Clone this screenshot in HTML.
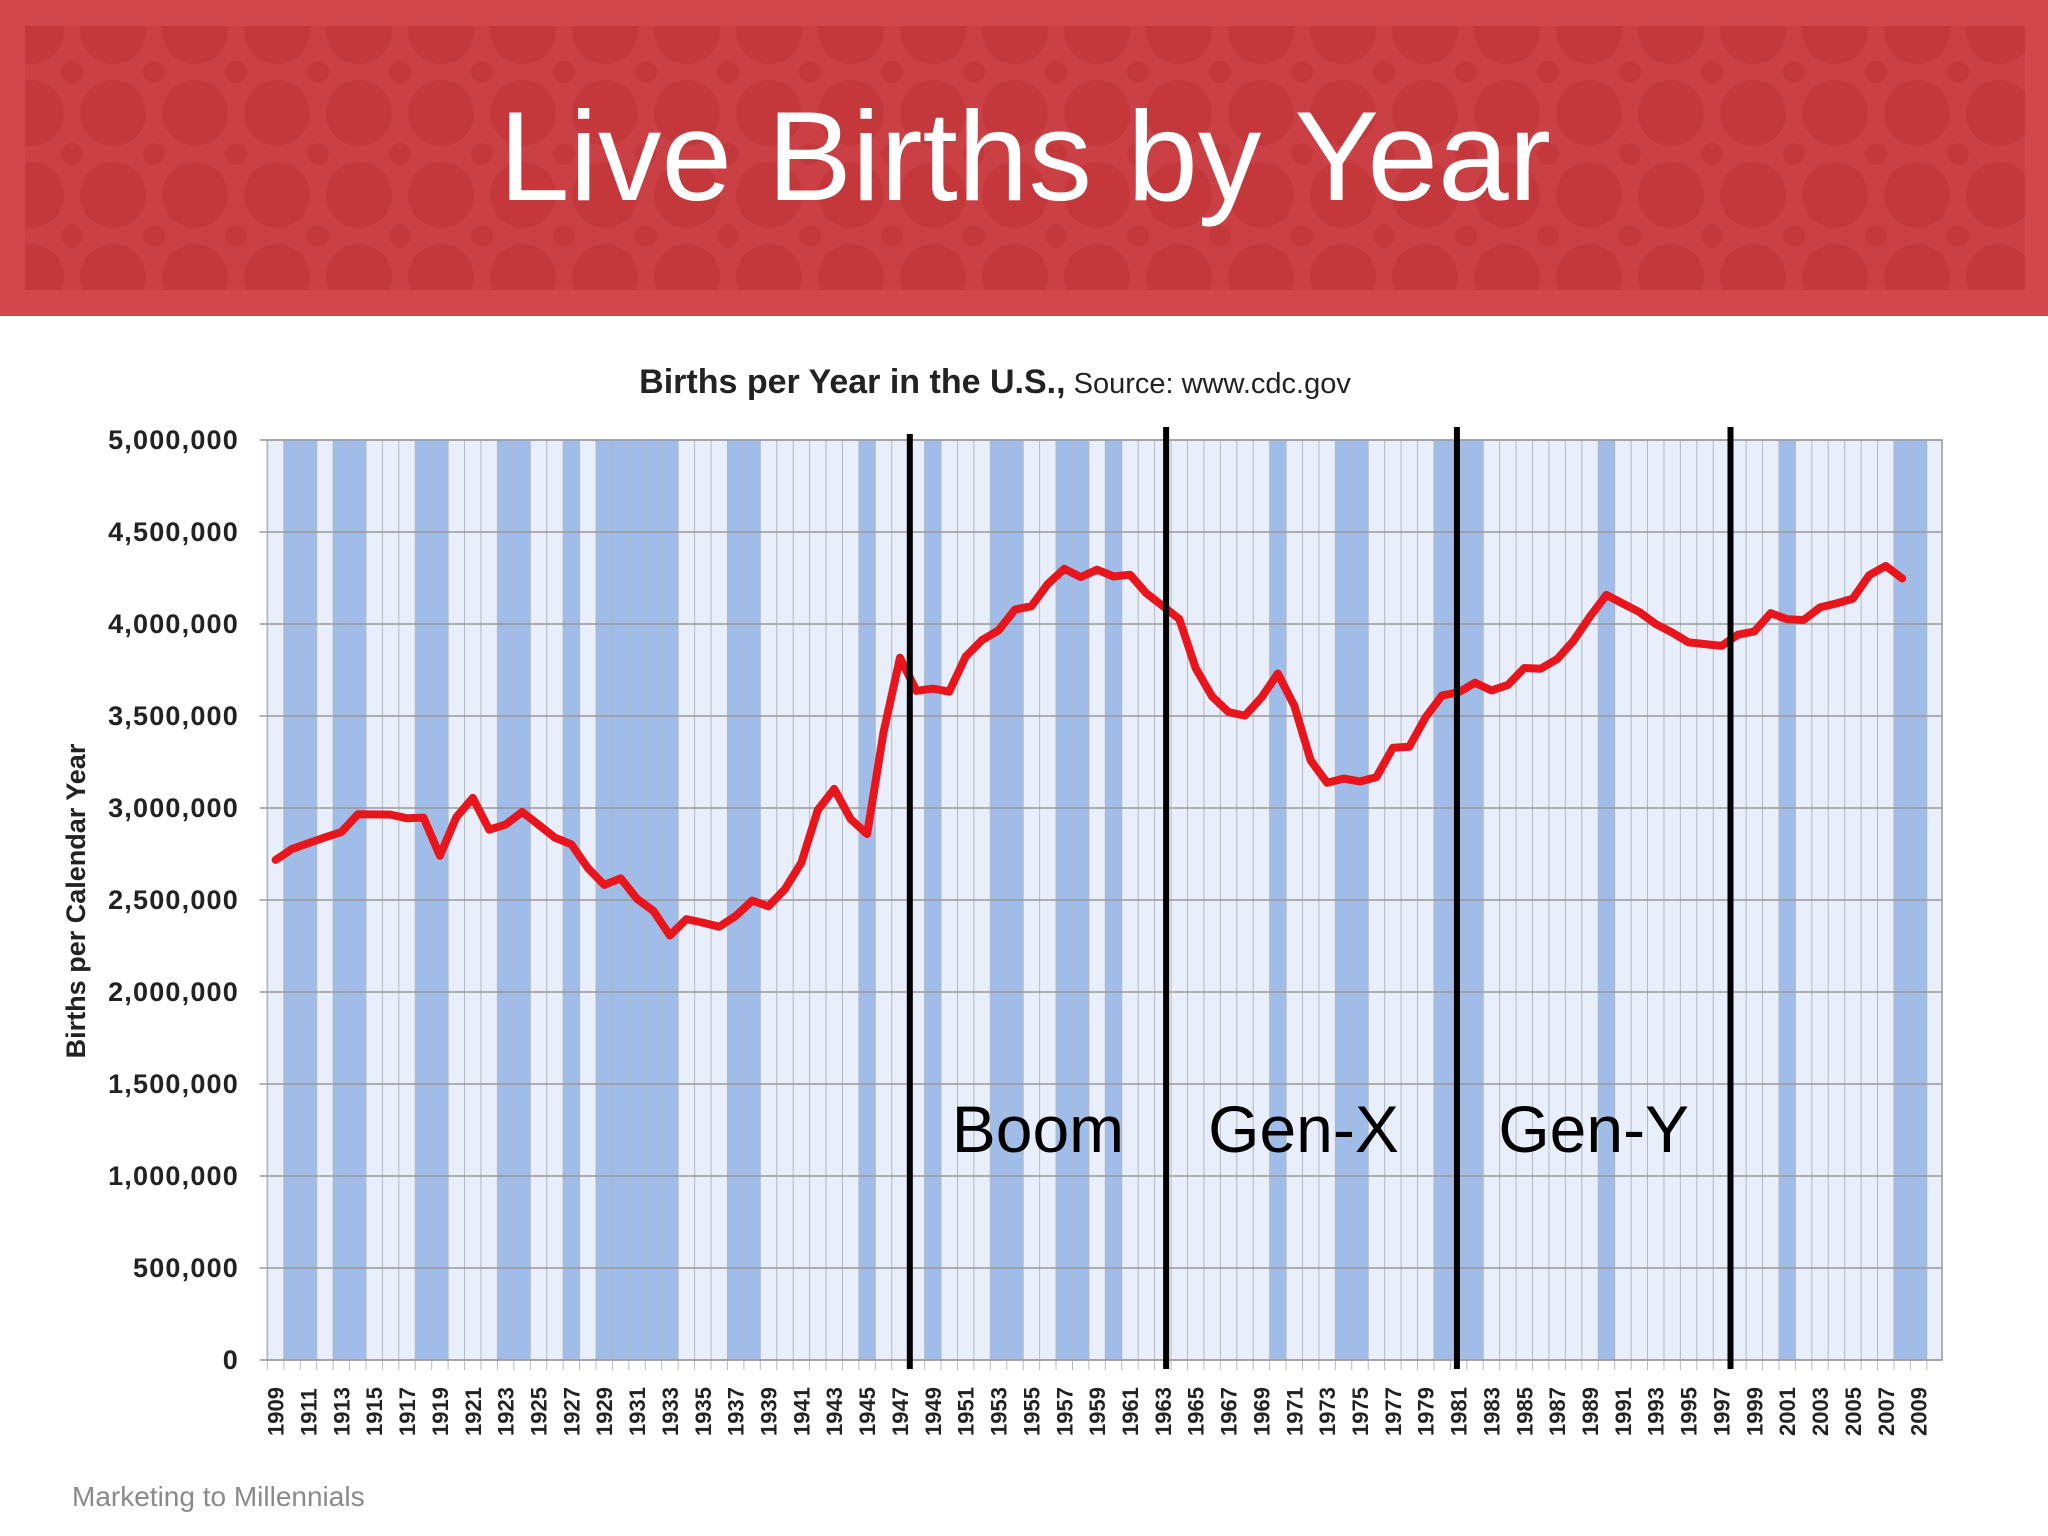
<!DOCTYPE html>
<html><head><meta charset="utf-8"><style>
html,body{margin:0;padding:0;background:#fff;}
svg{display:block;font-family:"Liberation Sans",sans-serif;}
</style></head><body>
<svg id="root" width="2048" height="1536" viewBox="0 0 2048 1536" xmlns="http://www.w3.org/2000/svg">
<defs>
<pattern id="dots" x="72" y="72" width="82" height="82" patternUnits="userSpaceOnUse">
<circle cx="41" cy="41" r="33" fill="#c4383c"/>
<circle cx="0" cy="0" r="11" fill="#c4383c"/>
<circle cx="82" cy="0" r="11" fill="#c4383c"/>
<circle cx="0" cy="82" r="11" fill="#c4383c"/>
<circle cx="82" cy="82" r="11" fill="#c4383c"/>
</pattern>
</defs>
<g>
<rect x="0" y="0" width="2048" height="316" fill="#d1474b"/>
<rect x="25" y="26" width="2000" height="264" fill="#cb4044"/>
<rect x="25" y="26" width="2000" height="264" fill="url(#dots)"/>
</g>
<text x="1025" y="200" font-size="127" fill="#fff" text-anchor="middle">Live Births by Year</text>
<text x="995" y="393" font-size="34" text-anchor="middle" fill="#222"><tspan font-weight="bold">Births per Year in the U.S.,</tspan><tspan font-size="29"> Source: www.cdc.gov</tspan></text>
<text transform="translate(85,901) rotate(-90)" font-size="27" font-weight="bold" text-anchor="middle" fill="#222">Births per Calendar Year</text>
<g id="plot"></g>
<text x="72" y="1506" font-size="28" fill="#8a8a8a">Marketing to Millennials</text>
</svg>
<script>
const years = [];
for (let y = 1909; y <= 2008; y++) years.push(y);
const births = [2718,2777,2809,2840,2869,2966,2965,2964,2944,2948,2740,2950,3055,2882,2910,2979,2909,2839,2802,2674,2582,2618,2506,2440,2307,2396,2377,2355,2413,2496,2466,2559,2703,2989,3104,2939,2858,3411,3817,3637,3649,3632,3823,3913,3965,4078,4097,4218,4300,4255,4295,4258,4268,4167,4098,4027,3760,3606,3521,3502,3600,3731,3556,3258,3137,3160,3144,3168,3327,3333,3494,3612,3629,3681,3639,3669,3761,3757,3809,3910,4041,4158,4111,4065,4000,3953,3900,3891,3881,3942,3959,4059,4026,4022,4090,4112,4138,4266,4316,4248];
const recessionYears = [1910,1911,1913,1914,1918,1919,1923,1924,1927,1929,1930,1931,1932,1933,1937,1938,1945,1949,1953,1954,1957,1958,1960,1970,1974,1975,1980,1981,1982,1990,2001,2008,2009];
const yTicks = [0,500000,1000000,1500000,2000000,2500000,3000000,3500000,4000000,4500000,5000000];
const genNames = ["Boom","Gen-X","Gen-Y"];
const genBoundaries = [1948.1,1963.7,1981.4,1998.05];
const firstYear = 1909, nCols = 101;
const L = 267.4, CW = 16.43, T = 440, B = 1360, R = 1942, YMAX = 5000000;
const NS = "http://www.w3.org/2000/svg";
const plot = document.getElementById('plot');
function xCol(yr){ return L + (yr - firstYear) * CW; }
function xC(yr){ return xCol(yr) + CW/2; }
function yV(v){ return B - v / YMAX * (B - T); }
function mk(tag, attrs, parent){ const e = document.createElementNS(NS, tag); for (const k in attrs) e.setAttribute(k, attrs[k]); (parent||plot).appendChild(e); return e; }

const bg = mk('rect', {x:L, y:T, width:R-L, height:B-T, fill:'#e8effa', stroke:'#9a9a9a', 'stroke-width':1.5});


recessionYears.forEach(yr => {
  const r = mk('rect', {x:xCol(yr), y:T, width:CW, height:B-T, fill:'#9fbde8'});
  
  
});
for (let i = 0; i <= nCols; i++) {
  const x = L + i*CW;
  const l = mk('line', {x1:x, y1:T, x2:x, y2:B+10, stroke:'#b4b8c0', 'stroke-width':1});
  
  
}
yTicks.forEach(v => {
  const y = yV(v);
  const g = mk('line', {x1:L-8, y1:y, x2:R, y2:y, stroke:'#9a9a9a', 'stroke-width':1.5});
  
  
  const t = mk('text', {x:239, y:y+9, 'font-size':27, 'font-weight':'bold', 'text-anchor':'end', fill:'#222', 'letter-spacing':1.2});
  t.textContent = v.toLocaleString('en-US');
  
  
});
for (let yr = 1909; yr <= 2009; yr += 2) {
  const t = mk('text', {transform:`translate(${xC(yr)+8},1436) rotate(-90)`, 'font-size':22, 'font-weight':'bold', fill:'#222'});
  t.textContent = yr;
  
  
}
const d = years.map((yr,i) => (i?'L':'M') + xC(yr).toFixed(1) + ' ' + yV(births[i]*1000).toFixed(1)).join(' ');
const line = mk('path', {d:d, fill:'none', stroke:'#e8161c', 'stroke-width':8, 'stroke-linejoin':'round', 'stroke-linecap':'round'});


genBoundaries.forEach((b,i) => {
  const x = L + (b - firstYear) * CW;
  const l = mk('line', {x1:x, y1:i===0?434:427, x2:x, y2:1369, stroke:'#000', 'stroke-width':6});
  
  
});
genNames.forEach((n,i) => {
  const x = L + ((genBoundaries[i]+genBoundaries[i+1])/2 - firstYear) * CW - (i===1?8:0);
  const t = mk('text', {x:x, y:1152, 'font-size':66, 'text-anchor':'middle', fill:'#000'});
  t.textContent = n;
  
  
});
</script>
</body></html>
